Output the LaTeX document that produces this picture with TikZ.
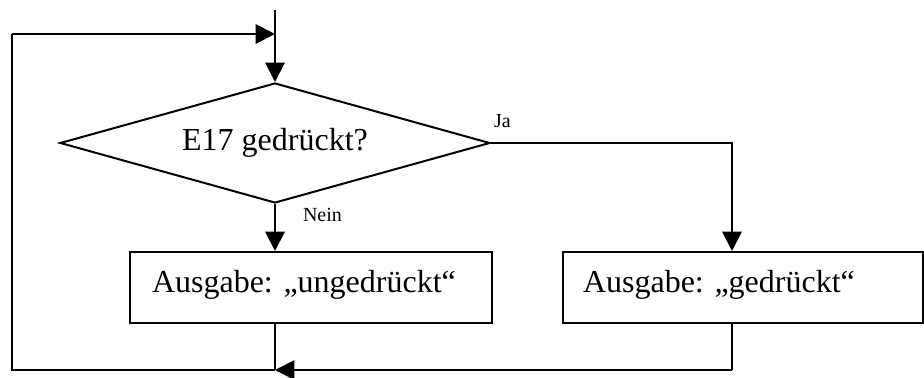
\documentclass[tikz,border=0pt]{standalone}
\usepackage{fontspec}
\setmainfont{Liberation Serif}
\usetikzlibrary{shapes.geometric,arrows.meta}

\begin{document}
\frenchspacing
\begin{tikzpicture}[x=0.75pt,y=-0.75pt,
  line width=1.5pt,
  arr/.style={-{Triangle[length=14.5pt,width=14.5pt]}},
  bigtext/.style={font=\fontsize{24}{28}\selectfont},
  smalltext/.style={font=\fontsize{15}{18}\selectfont, inner sep=0pt},
  decision/.style={draw, diamond, bigtext, inner sep=0pt, shape aspect=3.583,
    minimum width=322.5pt, minimum height=90pt},
  outbox/.style={draw, rectangle, bigtext, align=left,
    text height=16.4pt, text depth=9.6pt,
    minimum height=53.25pt, inner ysep=0pt}
]
\useasboundingbox (0,0) rectangle (924,378);

% decision and the two output boxes
\node[decision] (dec) at (275,143) {E17 gedrückt?};
\node[outbox, text width=238.5pt, inner xsep=16.5pt] (lbox) at (311,287.5)
  {Ausgabe: „ungedrückt“};
\node[outbox, text width=240pt, inner xsep=15pt] (rbox) at (743,287.5)
  {Ausgabe: „gedrückt“};

% branch labels
\node[smalltext, anchor=west] (ja) at (493,121) {Ja};
\node[smalltext, anchor=west] (nein) at (302,215) {Nein};

% helper points of the loop
\coordinate (start) at (275,10);
\coordinate (mergeT) at (275,34);
\coordinate (tl) at (12,34);
\coordinate (bl) at (12,370);
\coordinate (mergeB) at (275,370);
\coordinate (br) at (732,370);
\coordinate (jc) at (732,143);

% entry
\draw[arr] (start) -- (dec.north);

% yes branch
\draw[arr] (dec.east) -- (jc) -- (jc |- rbox.north);

% no branch
\draw[arr] (dec.south) -- (dec.south |- lbox.north);

% return paths
\draw (dec.south |- lbox.south) -- (mergeB);
\draw (jc |- rbox.south) -- (br);
\draw[arr] (br) -- (mergeB);
\draw (mergeB) -- (bl) -- (tl);
\draw[arr] (tl) -- (mergeT);
\end{tikzpicture}
\end{document}
